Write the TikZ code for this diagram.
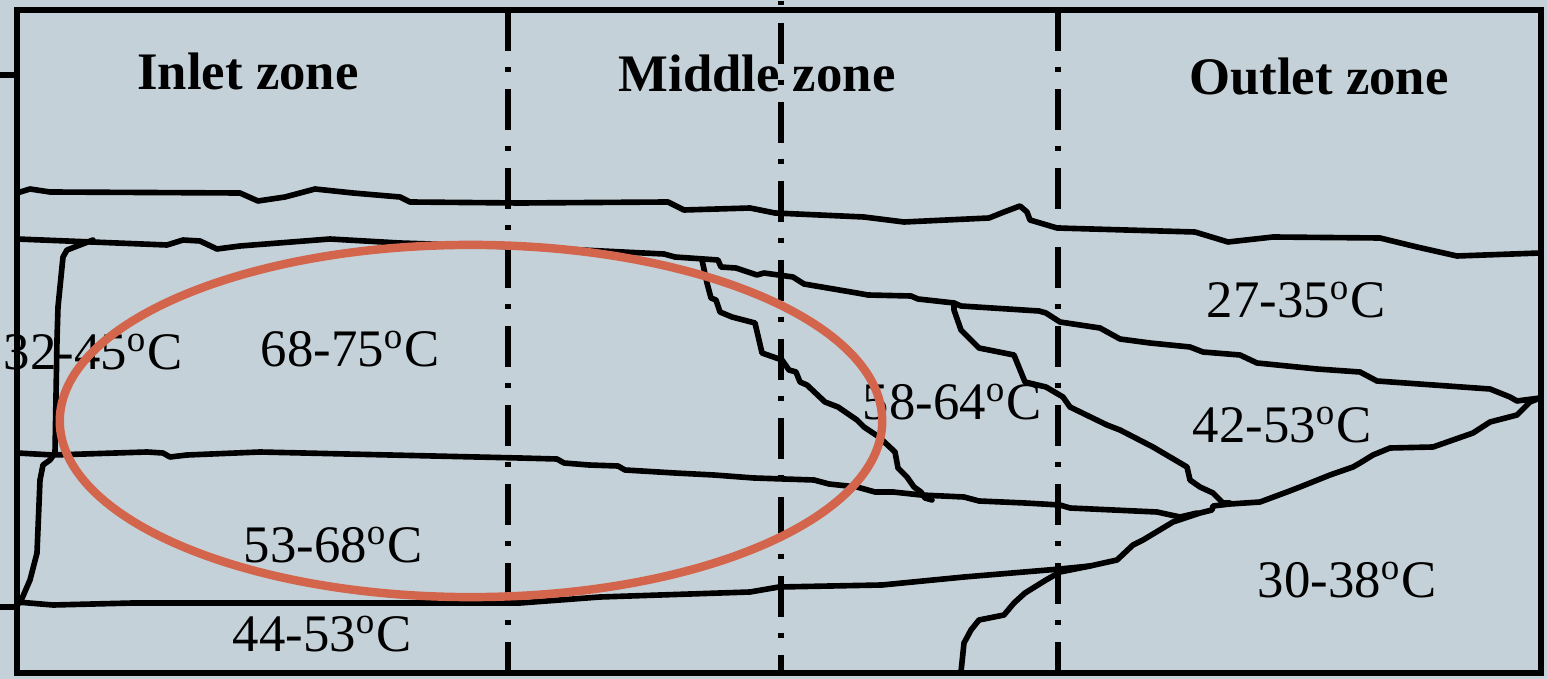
\documentclass[tikz,border=0pt]{standalone}
\usepackage{fontspec}
\setmainfont{Liberation Serif}
\definecolor{sfondo}{RGB}{197,209,216}
\definecolor{ellisse}{RGB}{210,101,76}

\begin{document}
\begin{tikzpicture}[
        % Unità in pixel dell'immagine (y verso il basso)
        x=0.01cm, y=-0.01cm,
        % Etichette delle zone
        zona/.style={font=\fontsize{15}{18}\selectfont\bfseries, anchor=base, inner sep=0pt},
        % Etichette di temperatura
        temp/.style={font=\fontsize{15}{18}\selectfont, anchor=base, inner sep=0pt},
        % Isolinee
        iso/.style={line width=1.6pt, line join=round, line cap=round},
        % Confini tratto-punto tra le zone
        confine/.style={line width=1.8pt, dash pattern=on 0.41cm off 0.155cm on 0.05cm off 0.175cm}
    ]

        % Sfondo e cornice
        \useasboundingbox (0,0) rectangle (1547,679);
        \fill[sfondo] (0,0) rectangle (1547,679);
        \draw[line width=1.8pt] (17,10) rectangle (1541,673);
        \draw[line width=1.8pt] (0,75) -- (17,75);
        \draw[line width=1.8pt] (0,607) -- (17,607);

        % Isolinee
        \draw[iso] (17,193) -- (30,189) -- (50,192) -- (240,193) -- (258,201) -- (285,197) -- (315,189) -- (353,193) -- (400,197) -- (410,202) -- (520,203) -- (668,202) -- (684,210) -- (750,208) -- (775,213) -- (864,217) -- (904,222) -- (989,218) -- (1004,212) -- (1020,206) -- (1027,212) -- (1030,220) -- (1057,228) -- (1195,232) -- (1228,242) -- (1273,237) -- (1380,238) -- (1417,247) -- (1457,256) -- (1540,253);
        \draw[iso] (17,239) -- (167,245) -- (183,240) -- (200,241) -- (217,249) -- (240,246) -- (330,239) -- (400,243) -- (520,247) -- (664,254) -- (675,257) -- (718,260) -- (721,267) -- (736,268) -- (757,275) -- (764,273) -- (793,277) -- (804,284) -- (857,293) -- (868,295) -- (911,296) -- (918,299) -- (954,303) -- (961,306) -- (1039,311) -- (1046,313) -- (1060,322) -- (1100,328) -- (1120,339) -- (1150,343) -- (1190,347) -- (1203,352) -- (1240,355) -- (1257,363) -- (1317,369) -- (1360,372) -- (1377,381) -- (1490,389) -- (1510,397) -- (1517,401) -- (1540,398);
        \draw[iso] (93,240) -- (67,250) -- (63,257) -- (58,307) -- (57,340) -- (55,453) -- (50,460) -- (43,465) -- (40,480) -- (37,553) -- (30,580) -- (20,603);
        \draw[iso] (17,453) -- (53,455) -- (147,452) -- (163,453) -- (170,457) -- (187,455) -- (260,452) -- (520,458) -- (557,459) -- (564,463) -- (589,465) -- (618,466) -- (625,470) -- (675,473) -- (714,475) -- (754,478) -- (814,480) -- (829,484) -- (857,487) -- (875,492) -- (893,492) -- (921,495) -- (964,497) -- (979,501) -- (1025,503) -- (1060,505) -- (1070,508) -- (1157,512) -- (1180,517) -- (1197,513);
        \draw[iso] (702,260) -- (707,283) -- (711,298) -- (716,300) -- (720,312) -- (732,317) -- (755,323) -- (759,340) -- (762,353) -- (782,360) -- (789,370) -- (796,372) -- (800,382) -- (807,385) -- (825,402) -- (838,407) -- (857,420) -- (864,427) -- (879,437) -- (895,452) -- (898,468) -- (907,477) -- (914,487) -- (921,492) -- (925,498) -- (932,500);
        \draw[iso] (954,303) -- (954,310) -- (961,330) -- (971,340) -- (979,348) -- (1014,355) -- (1025,382) -- (1046,387) -- (1063,397) -- (1070,407) -- (1107,425) -- (1120,430) -- (1153,447) -- (1187,467) -- (1190,480) -- (1200,487) -- (1213,493) -- (1223,503) -- (1230,503);
        \draw[iso] (1540,398) -- (1530,402) -- (1517,415) -- (1490,422) -- (1473,433) -- (1433,447) -- (1390,448) -- (1373,455) -- (1360,463) -- (1353,467) -- (1330,475) -- (1300,487) -- (1287,492) -- (1260,502) -- (1230,504) -- (1213,506) -- (1212,510) -- (1200,513) -- (1173,522) -- (1163,528) -- (1143,540) -- (1133,545) -- (1117,560) -- (1090,566) -- (1060,572) -- (1046,580) -- (1025,593) -- (1014,603) -- (1004,615) -- (979,620) -- (971,630) -- (964,643) -- (961,672);
        \draw[iso] (17,602) -- (53,605) -- (133,603) -- (520,603) -- (600,597) -- (750,592) -- (779,587) -- (882,585) -- (964,577) -- (1060,569) -- (1090,566);

        % Confini delle zone
        \draw[confine] (508,10) -- (508,673);
        \draw[confine, dash phase=0.57cm] (781,1) -- (781,673);
        \draw[confine] (1058,10) -- (1058,673);

        % Nomi delle zone
        \node[zona] (ingresso) at (248,90) {Inlet zone};
        \node[zona] (centro) at (757,92) {Middle zone};
        \node[zona] (uscita) at (1319,95) {Outlet zone};

        % Temperature
        \node[temp] (t1) at (93,370) {32-45\textsuperscript{o}C};
        \node[temp] (t2) at (350,367) {68-75\textsuperscript{o}C};
        \node[temp] (t3) at (952,420) {58-64\textsuperscript{o}C};
        \node[temp] (t4) at (1296,318) {27-35\textsuperscript{o}C};
        \node[temp] (t5) at (1282,443) {42-53\textsuperscript{o}C};
        \node[temp] (t6) at (333,563) {53-68\textsuperscript{o}C};
        \node[temp] (t7) at (322,652) {44-53\textsuperscript{o}C};
        \node[temp] (t8) at (1347,598) {30-38\textsuperscript{o}C};

        % Zona calda evidenziata
        \draw[ellisse, line width=2.4pt] (471,421) ellipse [x radius=4.11cm, y radius=1.76cm];

    \end{tikzpicture}
\end{document}
